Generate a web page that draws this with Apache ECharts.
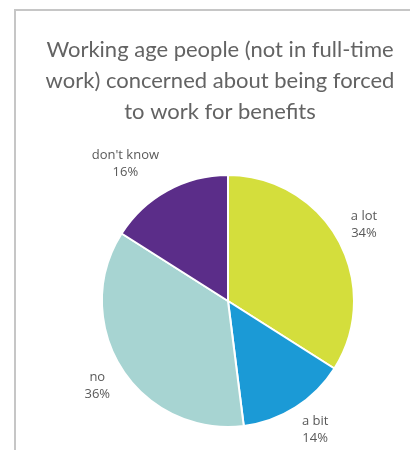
<!DOCTYPE html>
<html>
<head>
<meta charset="utf-8">
<script src="https://cdn.jsdelivr.net/npm/echarts@6/dist/echarts.min.js"></script>
<style>
  html, body { margin: 0; padding: 0; background: #fff; }
  #chart { width: 410px; height: 450px; }
</style>
</head>
<body>
<div id="chart"></div>
<script>
// Survey answers, clockwise from 12 o'clock
const categories = ['a lot', 'a bit', 'no', "don't know"];
const shares = [34, 14, 36, 16];
const sliceColors = ['#d4de3c', '#1b9ad6', '#a7d4d2', '#5b2d89'];
const titleText = 'Working age people (not in full-time\nwork) concerned about being forced\nto work for benefits';

const CX = 228, CY = 301, R = 126, GAP = 16;
// small per-label nudges so the wider labels sit clear of the pie
const labelNudge = { 'a bit': [4, -5], "don't know": [-18, 2] };
const total = shares.reduce((a, b) => a + b, 0);

// mid angle of each slice (radians, clockwise from top)
const midAngles = [];
let acc = 0;
shares.forEach(v => {
  midAngles.push(((acc + v / 2) / total) * Math.PI * 2);
  acc += v;
});

const chart = echarts.init(document.getElementById('chart'), null, { renderer: 'canvas' });

chart.setOption({
  backgroundColor: '#ffffff',
  animation: false,
  title: {
    text: titleText,
    left: 215,
    top: 29,
    textAlign: 'center',
    textStyle: {
      fontFamily: 'Lato',
      fontWeight: 'normal',
      fontSize: 22,
      lineHeight: 31,
      color: '#636363'
    }
  },
  graphic: [{
    type: 'polyline',
    shape: { points: [[15, 450], [15, 10], [410, 10]] },
    style: { stroke: '#c6c6c6', lineWidth: 2, fill: null },
    silent: true
  }],
  series: [{
    type: 'pie',
    center: [CX, CY],
    radius: [0, R],
    startAngle: 90,
    clockwise: true,
    itemStyle: { borderColor: '#ffffff', borderWidth: 2 },
    label: {
      show: true,
      position: 'inside',
      formatter: p => p.name + '\n' + p.value + '%',
      fontFamily: 'Open Sans',
      fontSize: 13,
      lineHeight: 17,
      color: '#595959'
    },
    labelLine: { show: false },
    labelLayout: function (params) {
      const i = params.dataIndex;
      const a = midAngles[i];
      const s = Math.sin(a), c = Math.cos(a);
      const w = params.labelRect.width, h = params.labelRect.height;
      const ax = CX + (R + GAP) * s;
      const ay = CY - (R + GAP) * c;
      const nudge = labelNudge[categories[i]] || [0, 0];
      return {
        x: ax + s * w / 2 + nudge[0],
        y: ay - c * h / 2 + nudge[1],
        align: 'center',
        verticalAlign: 'middle'
      };
    },
    data: categories.map((name, i) => ({
      name: name,
      value: shares[i],
      itemStyle: { color: sliceColors[i] }
    }))
  }]
});
</script>
</body>
</html>
